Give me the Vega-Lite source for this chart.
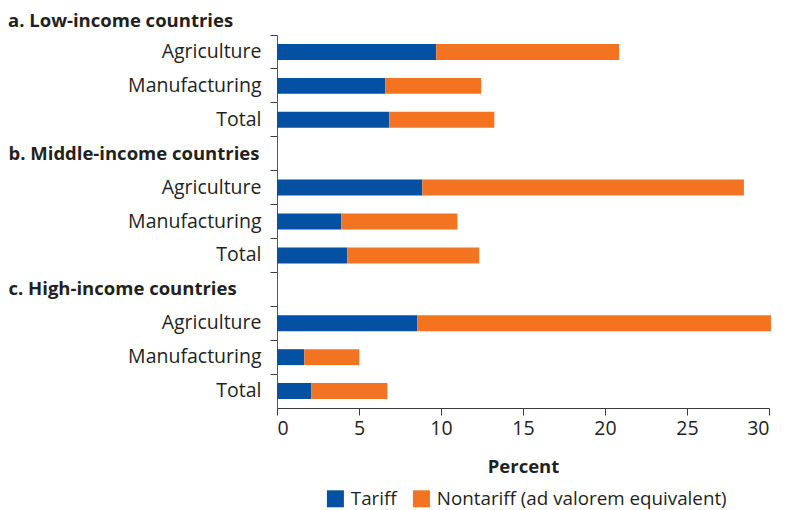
{
  "$schema": "https://vega.github.io/schema/vega-lite/v6.json",
  "width": 492,
  "height": 373,
  "autosize": "none",
  "padding": {"left": 277, "top": 35, "right": 27, "bottom": 102},
  "background": "white",
  "config": {
    "view": {"stroke": null},
    "font": "Open Sans",
    "axis": {"labelFont": "Open Sans", "titleFont": "Open Sans", "labelColor": "#231f20", "titleColor": "#231f20"},
    "legend": {"labelFont": "Open Sans"}
  },
  "title": {
    "text": "a. Low-income countries",
    "anchor": "start",
    "frame": "bounds",
    "orient": "top",
    "baseline": "alphabetic",
    "offset": -11,
    "font": "Open Sans",
    "fontSize": 18.5,
    "fontWeight": "bold",
    "color": "#231f20",
    "limit": 0
  },
  "data": {
    "values": [
      {"row": "a|Agriculture", "type": "Tariff", "value": 9.71},
      {"row": "a|Agriculture", "type": "Nontariff (ad valorem equivalent)", "value": 11.15},
      {"row": "a|Manufacturing", "type": "Tariff", "value": 6.61},
      {"row": "a|Manufacturing", "type": "Nontariff (ad valorem equivalent)", "value": 5.84},
      {"row": "a|Total", "type": "Tariff", "value": 6.85},
      {"row": "a|Total", "type": "Nontariff (ad valorem equivalent)", "value": 6.4},
      {"row": "b|Agriculture", "type": "Tariff", "value": 8.86},
      {"row": "b|Agriculture", "type": "Nontariff (ad valorem equivalent)", "value": 19.61},
      {"row": "b|Manufacturing", "type": "Tariff", "value": 3.93},
      {"row": "b|Manufacturing", "type": "Nontariff (ad valorem equivalent)", "value": 7.07},
      {"row": "b|Total", "type": "Tariff", "value": 4.29},
      {"row": "b|Total", "type": "Nontariff (ad valorem equivalent)", "value": 8.04},
      {"row": "c|Agriculture", "type": "Tariff", "value": 8.56},
      {"row": "c|Agriculture", "type": "Nontariff (ad valorem equivalent)", "value": 21.56},
      {"row": "c|Manufacturing", "type": "Tariff", "value": 1.67},
      {"row": "c|Manufacturing", "type": "Nontariff (ad valorem equivalent)", "value": 3.35},
      {"row": "c|Total", "type": "Tariff", "value": 2.1},
      {"row": "c|Total", "type": "Nontariff (ad valorem equivalent)", "value": 4.63}
    ]
  },
  "mark": {"type": "bar", "height": {"band": 0.47}},
  "encoding": {
    "y": {
      "field": "row",
      "type": "nominal",
      "scale": {
        "domain": ["a|Agriculture", "a|Manufacturing", "a|Total", "b|b. Middle-income countries", "b|Agriculture", "b|Manufacturing", "b|Total", "c|c. High-income countries", "c|Agriculture", "c|Manufacturing", "c|Total"],
        "paddingInner": 0,
        "paddingOuter": 0
      },
      "axis": {
        "title": null,
        "labelExpr": "split(datum.value, '|')[1]",
        "bandPosition": 0,
        "labelBound": false,
        "labelLimit": 0,
        "labelFontSize": {"condition": {"test": "indexof(datum.value, 'income') >= 0", "value": 18.5}, "value": 19.5},
        "labelFontWeight": {"condition": {"test": "indexof(datum.value, 'income') >= 0", "value": "bold"}, "value": "normal"},
        "labelAlign": {"condition": {"test": "indexof(datum.value, 'income') >= 0", "value": "left"}, "value": "right"},
        "labelPadding": {"condition": {"test": "indexof(datum.value, 'income') >= 0", "value": 262}, "value": 9},
        "tickSize": 7,
        "tickColor": "#3a3a3a",
        "domainColor": "#555555",
        "labelOverlap": false
      }
    },
    "x": {
      "field": "value",
      "type": "quantitative",
      "stack": "zero",
      "scale": {"domain": [0, 30], "nice": false, "clamp": false},
      "axis": {
        "title": "Percent",
        "values": [0, 5, 10, 15, 20, 25, 30],
        "grid": false,
        "tickSize": 7,
        "tickColor": "#3a3a3a",
        "domainColor": "#3a3a3a",
        "labelFontSize": 19.5,
        "labelPadding": 4,
        "titleFontSize": 18.5,
        "titleFontWeight": "bold",
        "titlePadding": 20
      }
    },
    "color": {
      "field": "type",
      "type": "nominal",
      "scale": {"domain": ["Tariff", "Nontariff (ad valorem equivalent)"], "range": ["#0450a3", "#f37321"]},
      "legend": {
        "title": null,
        "orient": "none",
        "direction": "horizontal",
        "legendX": 49,
        "legendY": 454,
        "symbolType": "square",
        "symbolSize": 289,
        "symbolStrokeWidth": 0,
        "symbolOpacity": 1,
        "labelFontSize": 18.8,
        "labelLimit": 0,
        "labelColor": "#231f20",
        "labelOffset": 6,
        "columnPadding": 15
      }
    },
    "order": {"field": "type", "sort": "descending"}
  }
}
